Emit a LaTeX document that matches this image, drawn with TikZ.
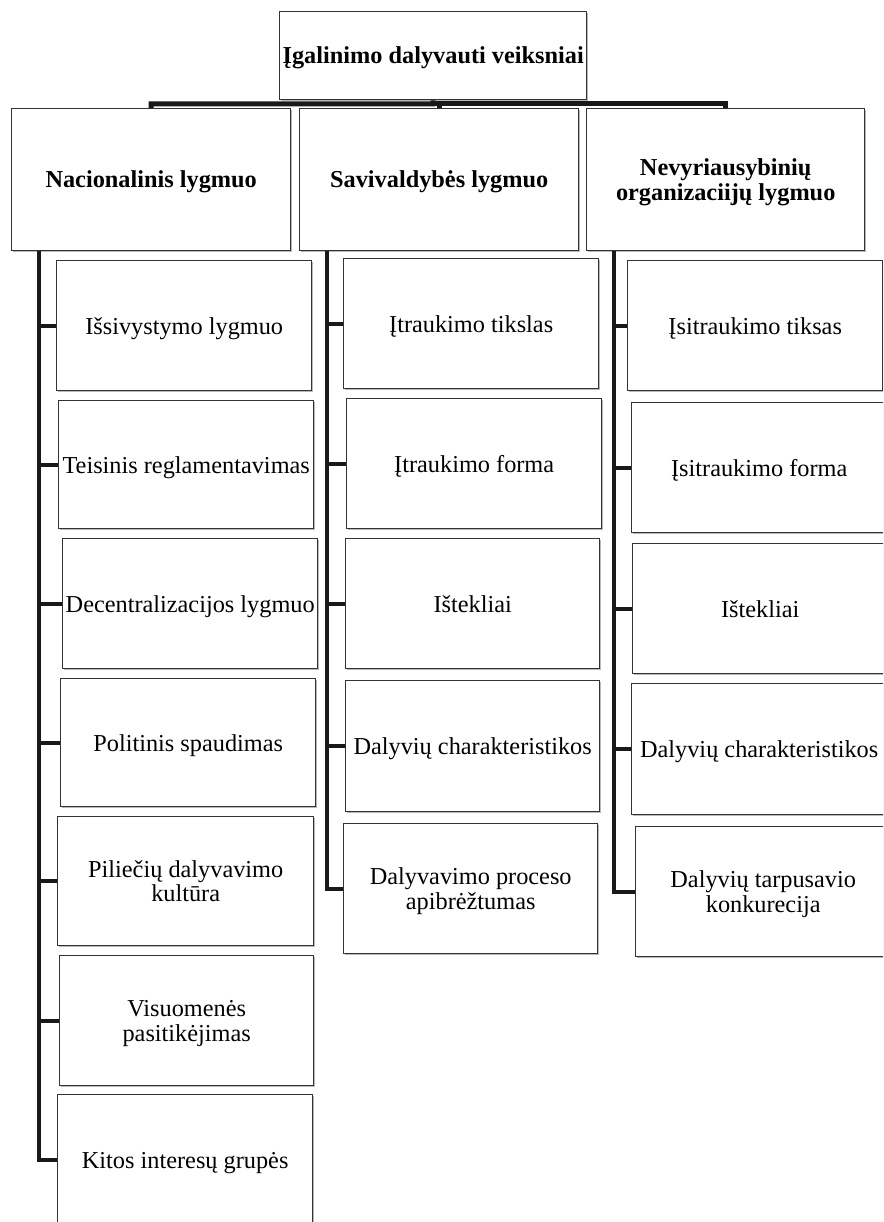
\documentclass[tikz,border=0pt]{standalone}
\usepackage{fontspec}
\usepackage{graphicx}
\setmainfont{Liberation Serif}
\usetikzlibrary{shadows}

% centred lines; lowered so that cap top to last baseline sits on the box centre
\newcommand{\lines}[1]{\raisebox{-3.4pt}[\height][\depth]{\begin{tabular}{@{}c@{}}#1\end{tabular}}}
% \bx[style]{name}{x1}{y1}{x2}{y2}{text}: box by its corners
\newcommand{\bx}[7][box]{\node[#1, minimum width={(#5-#3)*1pt}, minimum height={(#6-#4)*1pt}] (#2) at (#3,#4) {\lines{#7}};}

\tikzset{
  box/.style={draw=black!80, line width=1.4pt, fill=white, inner sep=0pt,
    anchor=north west,
    drop shadow={shadow xshift=1.3pt, shadow yshift=-1.6pt, fill=black, opacity=0.28},
    font=\fontsize{24.3}{24.5}\selectfont},
  head/.style={box, font=\fontsize{24.3}{24.5}\selectfont\bfseries},
  bus/.style={draw=black!90, line width=4pt},
  topbar/.style={draw=black!90, line width=5pt},
}

\begin{document}
\begin{tikzpicture}[x=1pt, y=-1pt]
\useasboundingbox (0,0) rectangle (883,1222);
\clip (0,0) rectangle (883,1222);

% root and the three levels
\bx[head]{top}{279}{11}{586}{99}{Įgalinimo dalyvauti veiksniai}
\bx[head]{nac}{11}{108}{290}{250}{Nacionalinis lygmuo}
\bx[head]{sav}{299}{108}{578}{250}{Savivaldybės lygmuo}
\bx[head]{ngo}{586}{108}{864}{250}{Nevyriausybinių\\organizaciijų lygmuo}

% national level factors
\bx{n1}{56}{260}{311}{390}{Išsivystymo lygmuo}
\bx{n2}{58}{400}{313}{528}{Teisinis reglamentavimas}
\bx{n3}{62}{538}{317}{668}{Decentralizacijos lygmuo}
\bx{n4}{60}{678}{315}{806}{Politinis spaudimas}
\bx{n5}{57}{816}{313}{945}{Piliečių dalyvavimo\\kultūra}
\bx{n6}{59}{955}{313}{1085}{Visuomenės\\pasitikėjimas}
\bx{n7}{57}{1094}{312}{1225}{Kitos interesų grupės}

% municipal level factors
\bx{s1}{343}{258}{598}{388}{Įtraukimo tikslas}
\bx{s2}{346}{398}{601}{528}{Įtraukimo forma}
\bx{s3}{345}{538}{599}{668}{Ištekliai}
\bx{s4}{345}{680}{599}{811}{Dalyvių charakteristikos}
\bx{s5}{343}{823}{597}{953}{Dalyvavimo proceso\\apibrėžtumas}

% NGO level factors
\bx{g1}{627}{260}{882}{390}{Įsitraukimo tiksas}
\bx{g2}{631}{402}{886}{532}{Įsitraukimo forma}
\bx{g3}{632}{543}{887}{673}{Ištekliai}
\bx{g4}{631}{683}{886}{814}{Dalyvių charakteristikos}
\bx{g5}{635}{826}{890}{956}{Dalyvių tarpusavio\\konkurecija}

% root to levels
\coordinate (hub) at (433,104);
\draw[topbar] (top.south) -- (hub) -| (nac.north);
\draw[topbar] (hub) -| (sav.north);
\draw[topbar] (hub) -| (ngo.north);

% level buses with branches
\foreach \c in {n1,n2,n3,n4,n5,n6,n7}
  \draw[bus] ([xshift=28pt]nac.south west) |- (\c.west);
\foreach \c in {s1,s2,s3,s4,s5}
  \draw[bus] ([xshift=28pt]sav.south west) |- (\c.west);
\foreach \c in {g1,g2,g3,g4,g5}
  \draw[bus] ([xshift=28pt]ngo.south west) |- (\c.west);
\end{tikzpicture}
\end{document}
